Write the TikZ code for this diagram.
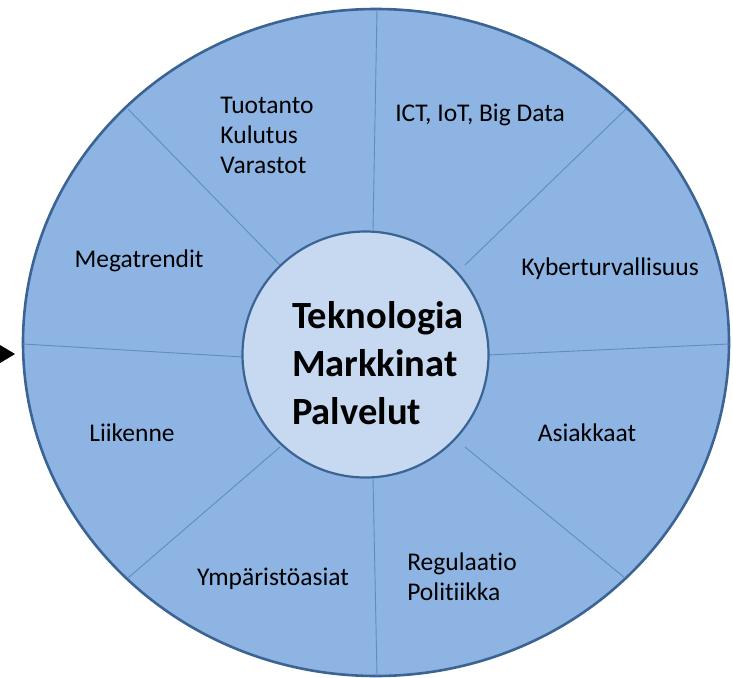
\documentclass[tikz,border=0pt]{standalone}
\usepackage{fontspec}
\setmainfont{Carlito}[Ligatures=NoCommon]
\usepackage{xcolor}
\usetikzlibrary{shapes.geometric}

\definecolor{ringfill}{HTML}{8EB4E3}
\definecolor{corefill}{HTML}{C6D9F1}
\definecolor{rimline}{HTML}{3B6494}
\definecolor{spokeline}{HTML}{5E8CC4}

\tikzset{
  rimshape/.style={ellipse, draw=rimline, fill=ringfill, line width=2.6pt, inner sep=0pt},
  coreshape/.style={circle, draw=rimline, fill=corefill, line width=2.2pt, inner sep=0pt},
  spoke/.style={spokeline, line width=0.9pt},
  topic/.style={font=\fontsize{25.5}{30}\selectfont, align=left, inner sep=0pt},
  title/.style={font=\fontsize{38.5}{48}\selectfont\bfseries, align=left, inner sep=0pt}
}

\begin{document}
\begin{tikzpicture}[x=1pt, y=-1pt]
    \useasboundingbox (0,0) rectangle (733,677);
    % Outer ring
    \node[rimshape, minimum width=706pt, minimum height=667pt] (rim) at (376,342.5) {};
    % Spokes between the sectors
    \foreach \xa/\ya/\xb/\yb in {373/230/377/9, 465/265/626/109, 488/355/729/344,
        465/447/625/578, 373/478/377/676, 280/447/128/578, 243/357/23/344, 280/265/128/109}
        \draw[spoke] (\xa,\ya) -- (\xb,\yb);
    % Core
    \node[coreshape, minimum size=246pt] (core) at (365.5,354.5) {};
    \node[title] (coretext) at (378,363) {Teknologia\\Markkinat\\Palvelut};
    % Sector labels
    \node[topic] (tuotanto) at (267,135) {Tuotanto\\Kulutus\\Varastot};
    \node[topic] (ict) at (480,115) {ICT, IoT, Big Data};
    \node[topic] (kyber) at (610,269) {Kyberturvallisuus};
    \node[topic] (asiakkaat) at (587,433) {Asiakkaat};
    \node[topic] (regulaatio) at (462,577) {Regulaatio\\Politiikka};
    \node[topic] (ymparisto) at (273,579) {Ympäristöasiat};
    \node[topic] (liikenne) at (132,433) {Liikenne};
    \node[topic] (megatrendit) at (139,261) {Megatrendit};
    % Arrow tip at the left edge
    \fill (0,345) -- (15,354) -- (0,363) -- cycle;
\end{tikzpicture}
\end{document}
